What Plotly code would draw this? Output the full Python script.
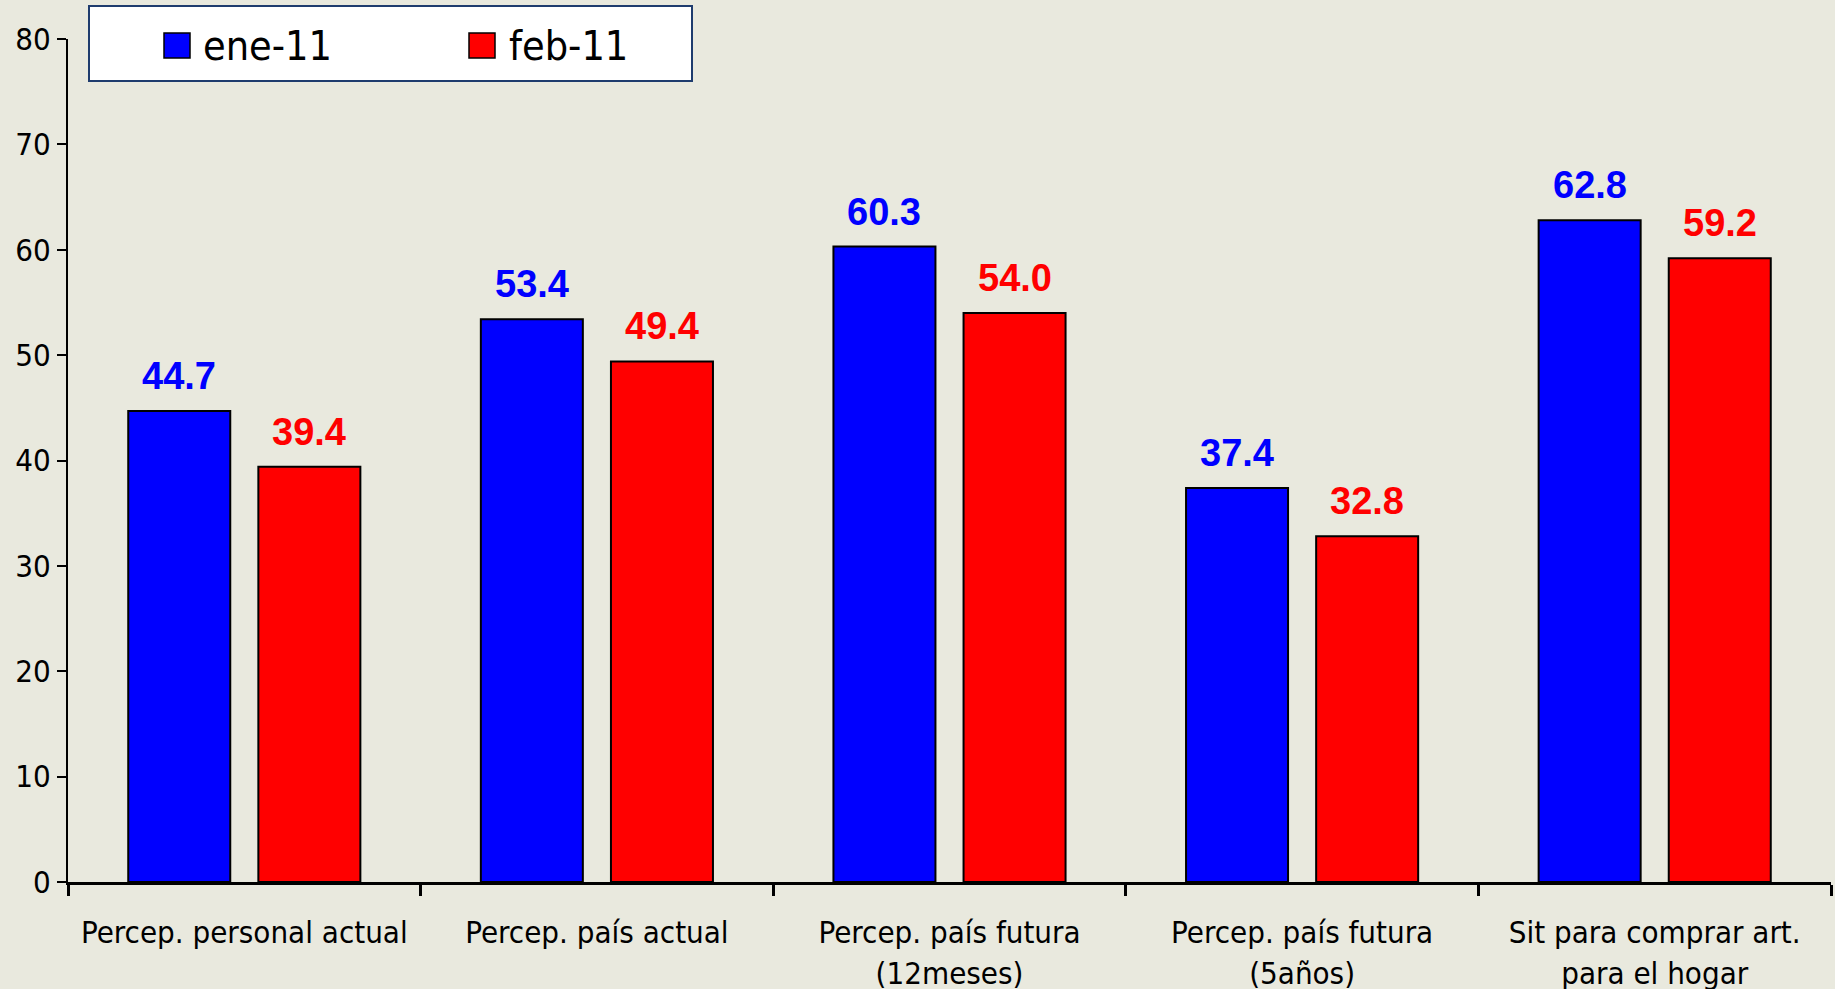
import plotly.graph_objects as go

# =========================================================
# Data
# =========================================================

categories = [
    "Percep. personal actual",
    "Percep. país actual",
    "Percep. país futura<br>(12meses)",
    "Percep. país futura<br>(5años)",
    "Sit para comprar art.<br>para el hogar",
]

series_names = ["ene-11", "feb-11"]
ene_11 = [44.7, 53.4, 60.3, 37.4, 62.8]
feb_11 = [39.4, 49.4, 54.0, 32.8, 59.2]

colors = ["#0000FF", "#FF0000"]
bg = "#E9E9DE"

# =========================================================
# Geometry helpers (pixel -> paper)
# =========================================================

W, H = 1835, 989
L, R, T, B = 68, 4, 39, 107
PW, PH = W - L - R, H - T - B


def px_x(x):
    return (x - L) / PW


def px_y(y):
    return (H - B - y) / PH


# =========================================================
# Figure
# =========================================================

fig = go.Figure()

for name, vals, col in zip(series_names, [ene_11, feb_11], colors):
    fig.add_trace(go.Bar(
        x=categories,
        y=vals,
        name=name,
        marker=dict(color=col, line=dict(color="black", width=2)),
        showlegend=False,
    ))

# value labels
offset = 0.1845
for k, (vals, col) in enumerate(zip([ene_11, feb_11], colors)):
    sign = -1 if k == 0 else 1
    for i, v in enumerate(vals):
        fig.add_annotation(
            x=i + sign * offset, y=v, xref="x", yref="y",
            text=f"<b>{v:.1f}</b>", showarrow=False,
            yanchor="middle", yshift=35,
            font=dict(family="Liberation Sans, Arial", size=38, color=col),
        )

# manual legend
fig.add_shape(type="rect", xref="paper", yref="paper",
              x0=px_x(89), x1=px_x(692), y0=px_y(81), y1=px_y(6),
              fillcolor="white", line=dict(color="#1F3C6E", width=2))
legend_pos = [(164, 201), (469, 507)]
for (sx, tx), name, col in zip(legend_pos, series_names, colors):
    fig.add_shape(type="rect", xref="paper", yref="paper",
                  x0=px_x(sx), x1=px_x(sx + 26), y0=px_y(58), y1=px_y(33),
                  fillcolor=col, line=dict(color="black", width=1.5))
    fig.add_annotation(x=px_x(tx), y=px_y(46), xref="paper", yref="paper",
                       text=name, showarrow=False, xanchor="left", yanchor="middle",
                       font=dict(family="DejaVu Sans Condensed, DejaVu Sans", size=41,
                                 color="black"))

fig.update_layout(
    width=W, height=H,
    margin=dict(l=L, r=R, t=T, b=B),
    paper_bgcolor=bg,
    plot_bgcolor=bg,
    barmode="group",
    bargap=0.262,
    bargroupgap=0.216,
    font=dict(family="DejaVu Sans Condensed, DejaVu Sans", size=30, color="black"),
)

fig.update_xaxes(
    type="category",
    automargin=False,
    showline=True, linecolor="black", linewidth=3,
    ticks="outside", tickson="boundaries", ticklen=11, tickwidth=3, tickcolor="black",
    tickfont=dict(size=31),
    ticklabelstandoff=21,
    showgrid=False, zeroline=False,
)

fig.update_yaxes(
    range=[0, 80], dtick=10,
    automargin=False,
    showline=True, linecolor="black", linewidth=2,
    ticks="outside", ticklen=9, tickwidth=2, tickcolor="black",
    tickfont=dict(size=31),
    ticklabelstandoff=0,
    showgrid=False, zeroline=False,
)

fig.write_html(
    "out.html",
    config={"displayModeBar": False},
    post_script="document.body.style.margin='0';document.body.style.overflow='hidden';",
)
